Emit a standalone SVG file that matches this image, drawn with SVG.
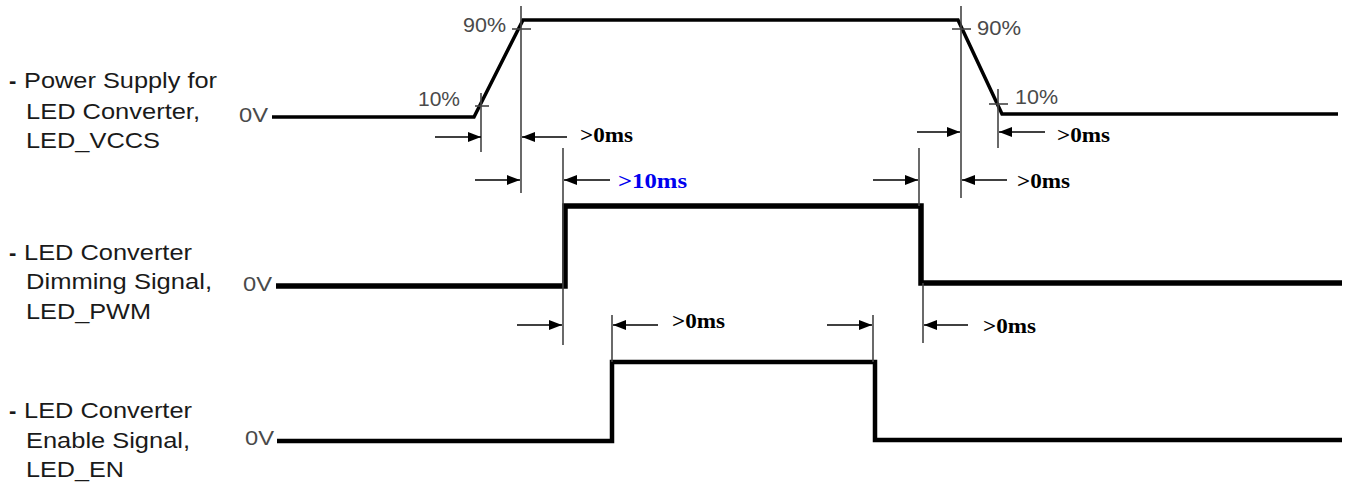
<svg xmlns="http://www.w3.org/2000/svg" width="1350" height="485" viewBox="0 0 1350 485">
<style>
.lbl{font-family:"Liberation Sans",Arial,sans-serif;font-size:22px;fill:#1a1a1a}
.dash{font-family:"Liberation Sans",Arial,sans-serif;font-size:22px;font-weight:bold;fill:#1a1a1a}
.lv{font-family:"Liberation Sans",Arial,sans-serif;font-size:21px;fill:#4a4a4a}
.ms{font-family:"Liberation Serif","Times New Roman",serif;font-size:20px;font-weight:bold;fill:#000}
.blue{fill:#0000ee}
.wave{fill:none;stroke:#000;stroke-linejoin:miter}
.guide{stroke:#444;stroke-width:1.6;fill:none}
.arr{stroke:#000;stroke-width:1.6;fill:none;marker-end:url(#ah)}
</style>
<defs>
<marker id="ah" markerUnits="userSpaceOnUse" markerWidth="14" markerHeight="12" refX="13" refY="5" orient="auto">
<path d="M0,0 L13,5 L0,10 Z" fill="#000"/>
</marker>
</defs>
<rect width="1350" height="485" fill="#fff"/>

<g id="label-vccs">
<text class="dash" x="9" y="88">-</text>
<text class="lbl" x="24" y="88" textLength="193" lengthAdjust="spacingAndGlyphs">Power Supply for</text>
<text class="lbl" x="26" y="119" textLength="174" lengthAdjust="spacingAndGlyphs">LED Converter,</text>
<text class="lbl" x="26" y="148" textLength="134" lengthAdjust="spacingAndGlyphs">LED_VCCS</text>
<text class="lv" x="239" y="122" textLength="29" lengthAdjust="spacingAndGlyphs">0V</text>
</g>
<g id="label-pwm">
<text class="dash" x="9" y="260">-</text>
<text class="lbl" x="24" y="260" textLength="168" lengthAdjust="spacingAndGlyphs">LED Converter</text>
<text class="lbl" x="26" y="289" textLength="186" lengthAdjust="spacingAndGlyphs">Dimming Signal,</text>
<text class="lbl" x="26" y="319" textLength="125" lengthAdjust="spacingAndGlyphs">LED_PWM</text>
<text class="lv" x="243" y="291" textLength="29" lengthAdjust="spacingAndGlyphs">0V</text>
</g>
<g id="label-en">
<text class="dash" x="9" y="418">-</text>
<text class="lbl" x="24" y="418" textLength="168" lengthAdjust="spacingAndGlyphs">LED Converter</text>
<text class="lbl" x="26" y="448" textLength="164" lengthAdjust="spacingAndGlyphs">Enable Signal,</text>
<text class="lbl" x="26" y="477" textLength="98" lengthAdjust="spacingAndGlyphs">LED_EN</text>
<text class="lv" x="245" y="445" textLength="29" lengthAdjust="spacingAndGlyphs">0V</text>
</g>

<g id="wave-vccs">
<polyline class="wave" stroke-width="3.5" points="272,117 474,117 523,20 958,20 1002,114 1338,114"/>
<line class="guide" x1="475" y1="106" x2="489" y2="106"/>
<line class="guide" x1="512" y1="29" x2="531" y2="29"/>
<line class="guide" x1="952" y1="29" x2="971" y2="29"/>
<line class="guide" x1="989" y1="104" x2="1008" y2="104"/>
<text class="lv" x="463" y="32" textLength="43" lengthAdjust="spacingAndGlyphs">90%</text>
<text class="lv" x="418" y="106" textLength="42" lengthAdjust="spacingAndGlyphs">10%</text>
<text class="lv" x="977" y="35" textLength="44" lengthAdjust="spacingAndGlyphs">90%</text>
<text class="lv" x="1015" y="104" textLength="43" lengthAdjust="spacingAndGlyphs">10%</text>
</g>
<g id="wave-pwm">
<polyline class="wave" stroke-width="5.5" points="276,286 565,286 565,206 921,206 921,283 1342,283"/>
</g>
<g id="wave-en">
<polyline class="wave" stroke-width="4.5" points="277,441 612,441 612,362 875,362 875,440 1342,440"/>
</g>

<g id="connectors">
<line class="guide" x1="481" y1="93" x2="481" y2="152"/>
<line class="guide" x1="521" y1="6" x2="521" y2="193"/>
<line class="guide" x1="563" y1="148" x2="563" y2="345"/>
<line class="guide" x1="919" y1="148" x2="919" y2="206"/>
<line class="guide" x1="923" y1="283" x2="923" y2="343"/>
<line class="guide" x1="961" y1="6" x2="961" y2="198"/>
<line class="guide" x1="998" y1="89" x2="998" y2="148"/>
<line class="guide" x1="612" y1="315" x2="612" y2="362"/>
<line class="guide" x1="873" y1="315" x2="873" y2="362"/>

<line class="arr" x1="435" y1="137" x2="481" y2="137"/>
<line class="arr" x1="567" y1="137" x2="522" y2="137"/>
<line class="arr" x1="475" y1="180" x2="520" y2="180"/>
<line class="arr" x1="610" y1="180" x2="564" y2="180"/>
<line class="arr" x1="917" y1="132" x2="960" y2="132"/>
<line class="arr" x1="1045" y1="132" x2="999" y2="132"/>
<line class="arr" x1="873" y1="180" x2="918" y2="180"/>
<line class="arr" x1="1007" y1="180" x2="962" y2="180"/>
<line class="arr" x1="517" y1="325" x2="562" y2="325"/>
<line class="arr" x1="658" y1="325" x2="613" y2="325"/>
<line class="arr" x1="827" y1="325" x2="872" y2="325"/>
<line class="arr" x1="968" y1="325" x2="924" y2="325"/>

<text class="ms" x="580" y="142" textLength="53" lengthAdjust="spacingAndGlyphs">&gt;0ms</text>
<text class="ms blue" x="618" y="188" textLength="69" lengthAdjust="spacingAndGlyphs">&gt;10ms</text>
<text class="ms" x="1057" y="142" textLength="53" lengthAdjust="spacingAndGlyphs">&gt;0ms</text>
<text class="ms" x="1017" y="188" textLength="53" lengthAdjust="spacingAndGlyphs">&gt;0ms</text>
<text class="ms" x="672" y="328" textLength="53" lengthAdjust="spacingAndGlyphs">&gt;0ms</text>
<text class="ms" x="983" y="333" textLength="53" lengthAdjust="spacingAndGlyphs">&gt;0ms</text>
</g>
</svg>
